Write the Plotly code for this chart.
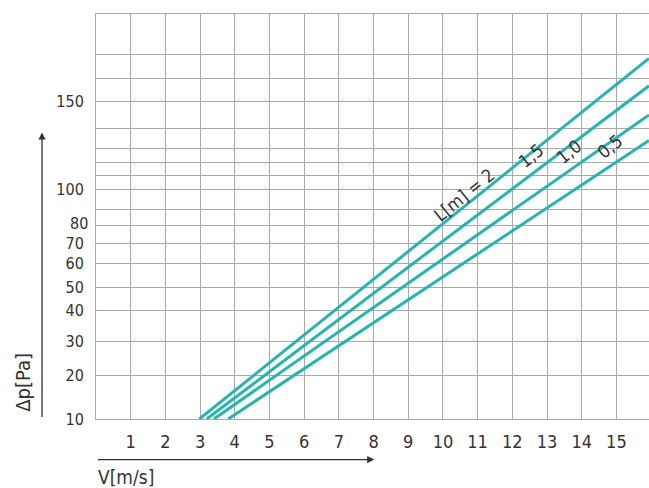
import numpy as np
import plotly.graph_objects as go

# ---------------- data ----------------
line_labels = ["L[m] = 2", "1,5", "1,0", "0,5"]
v_start = [2.98, 3.19, 3.40, 3.81]      # m/s where each curve leaves 10 Pa
dp_start = [10, 10, 10, 10]             # Pa
v_end = [15.94, 15.94, 15.94, 15.94]    # m/s (right edge of chart)
dp_end = [196, 167, 145, 134]           # Pa at right edge

y_grid_values = [10, 20, 30, 40, 50, 60, 70, 80, 90, 100, 110, 120, 130, 140, 150, 175, 200, 250]
y_grid_labels = ["10", "20", "30", "40", "50", "60", "70", "80", "", "100", "", "", "", "", "150", "", "", ""]
x_grid_values = list(range(0, 16))
x_grid_labels = [""] + [str(i) for i in range(1, 16)]

# ---------------- chart's custom (non-uniform) Δp scale ----------------
scale_positions = [0, 43.7, 77.7, 108.7, 131.7, 155.7, 175.7, 193.7, 209.7, 229.7,
                   243.7, 256.7, 270.7, 290.7, 317.7, 340.7, 364.7, 405.2]


def to_axis(v):
    return np.interp(v, y_grid_values, scale_positions)


TEAL = "#26b4ae"
GRID = "#a9a9a9"
TXT = "#333333"
FONT = "DejaVu Sans Condensed, Roboto, sans-serif"
YFONT = 16

# the tightly packed "80" label is drawn as an annotation nudged up slightly
crowded = {"80": 2}
tick_text_axis = ["" if t in crowded else t for t in y_grid_labels]

fig = go.Figure()
for i in range(len(line_labels)):
    fig.add_trace(go.Scatter(
        x=[v_start[i], v_end[i]],
        y=to_axis([dp_start[i], dp_end[i]]),
        mode="lines",
        line=dict(color=TEAL, width=3),
        showlegend=False,
        hoverinfo="skip",
    ))

for val, lab in zip(y_grid_values, y_grid_labels):
    if lab in crowded:
        fig.add_annotation(xref="paper", yref="y", x=0, y=float(to_axis(val)),
                           text=lab, showarrow=False, xanchor="right", yanchor="middle",
                           xshift=-6, yshift=crowded[lab],
                           font=dict(family=FONT, size=YFONT, color=TXT))

# curve labels (placed along the lines)
label_pos = [(10.62, 225.0), (12.54, 263.7), (13.63, 267.7), (14.81, 272.7)]
for txt, (lx, ly) in zip(line_labels, label_pos):
    fig.add_annotation(x=lx, y=ly, text=txt, showarrow=False, textangle=-39,
                       xanchor="center", yanchor="middle",
                       font=dict(family=FONT, size=18, color=TXT))

# axis arrows and titles
fig.add_annotation(xref="paper", yref="paper", x=-0.0976, y=0.7076, ax=0, ay=286,
                   text="", showarrow=True, arrowhead=2, arrowsize=1.1,
                   arrowwidth=1.3, arrowcolor=TXT)
fig.add_annotation(xref="paper", yref="paper", x=0.5033, y=-0.1002, ax=-278, ay=0,
                   text="", showarrow=True, arrowhead=2, arrowsize=1.1,
                   arrowwidth=1.3, arrowcolor=TXT)
fig.add_annotation(xref="paper", yref="paper", x=-0.1335, y=0.09, text="Δp[Pa]",
                   showarrow=False, textangle=-90, xanchor="center", yanchor="middle",
                   font=dict(family=FONT, size=20, color=TXT))
fig.add_annotation(xref="paper", yref="paper", x=0.0, y=-0.144, xanchor="left",
                   yanchor="middle", text="V[m/s]", showarrow=False,
                   font=dict(family=FONT, size=19, color=TXT))

fig.update_layout(
    width=649, height=488,
    margin=dict(l=96, r=0, t=14, b=69),
    paper_bgcolor="white", plot_bgcolor="white",
    xaxis=dict(range=[0, 15.94], tickvals=x_grid_values, ticktext=x_grid_labels,
               showgrid=True, gridcolor=GRID, gridwidth=1, zeroline=False,
               showline=True, linecolor=GRID, linewidth=1, mirror=True,
               ticks="", ticklabelstandoff=6,
               tickfont=dict(family=FONT, size=18, color=TXT)),
    yaxis=dict(range=[0, 405.2], tickvals=to_axis(y_grid_values), ticktext=tick_text_axis,
               showgrid=True, gridcolor=GRID, gridwidth=1, zeroline=False,
               showline=True, linecolor=GRID, linewidth=1,
               ticks="", ticklabelstandoff=8,
               tickfont=dict(family=FONT, size=YFONT, color=TXT)),
)

fig.write_html("out.html", config={"displayModeBar": False},
               post_script="document.body.style.margin='0';")
